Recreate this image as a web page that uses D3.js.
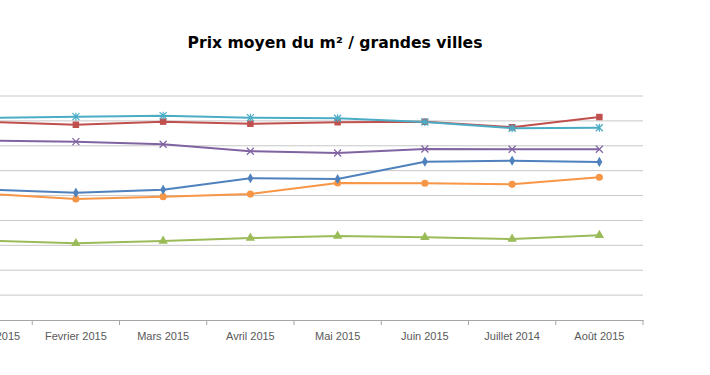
<!DOCTYPE html>
<html>
<head>
<meta charset="utf-8">
<script src="https://cdn.jsdelivr.net/npm/d3@7"></script>
<style>
  body { margin: 0; background: #fff; }
  svg { display: block; }
</style>
</head>
<body>
<svg id="chart" width="710" height="375"></svg>
<script>
(() => {
  const width = 710, height = 375;
  // plot area (left edge falls outside the picture, as in the reference)
  const plot = { left: -55, right: 643, top: 96, bottom: 320 };

  const months = ["Janvier 2015", "Fevrier 2015", "Mars 2015", "Avril 2015",
                  "Mai 2015", "Juin 2015", "Juillet 2014", "Août 2015"];

  // series values, €/m²
  const serieCyan   = [8115, 8170, 8210, 8130, 8105, 7955, 7705, 7725];
  const serieRouge  = [7960, 7845, 7970, 7885, 7945, 7965, 7745, 8155];
  const serieViolet = [7210, 7165, 7060, 6780, 6710, 6870, 6860, 6860];
  const serieBleu   = [5240, 5115, 5235, 5695, 5665, 6360, 6400, 6350];
  const serieOrange = [5065, 4860, 4955, 5060, 5505, 5495, 5450, 5735];
  const serieVert   = [3190, 3080, 3175, 3295, 3375, 3325, 3255, 3405];

  const yTicks = d3.range(0, 9001, 1000);

  const series = [
    { values: serieVert,   color: "#9BBB59", marker: "triangle" },
    { values: serieOrange, color: "#F79646", marker: "circle" },
    { values: serieBleu,   color: "#4F81BD", marker: "diamond" },
    { values: serieViolet, color: "#8064A2", marker: "x" },
    { values: serieRouge,  color: "#C0504D", marker: "square" },
    { values: serieCyan,   color: "#4BACC6", marker: "star" }
  ];

  const svg = d3.select("#chart");

  const x = d3.scaleBand().domain(months).range([plot.left, plot.right]).padding(0);
  const cx = d => x(d) + x.bandwidth() / 2;
  const y = d3.scaleLinear().domain([0, 9000]).range([plot.bottom, plot.top]);

  // gridlines
  svg.append("g")
    .selectAll("line")
    .data(yTicks.slice(1))
    .join("line")
    .attr("x1", plot.left).attr("x2", plot.right)
    .attr("y1", d => y(d)).attr("y2", d => y(d))
    .attr("stroke", "#c8c8c8")
    .attr("stroke-width", 1);

  // x axis
  const xAxis = d3.axisBottom(x).tickSize(0).tickPadding(12);
  const gx = svg.append("g")
    .attr("transform", `translate(0,${plot.bottom})`)
    .call(xAxis);
  gx.select(".domain").attr("stroke", "#a6a6a6");
  gx.selectAll("text")
    .attr("fill", "#595959")
    .attr("font-family", "'Liberation Sans', Arial, sans-serif")
    .attr("font-size", "11px");
  // tick marks at category boundaries
  gx.selectAll(".bound")
    .data(months)
    .join("line")
    .attr("class", "bound")
    .attr("x1", d => x(d) + x.bandwidth()).attr("x2", d => x(d) + x.bandwidth())
    .attr("y1", 0).attr("y2", 5)
    .attr("stroke", "#a6a6a6");

  // lines
  const line = d3.line()
    .x((_, i) => cx(months[i]))
    .y(d => y(d));

  const markerPath = {
    triangle: d3.symbol(d3.symbolTriangle, 38)(),
    circle: d3.symbol(d3.symbolCircle, 40)(),
    diamond: d3.symbol(d3.symbolDiamond, 30)(),
    square: d3.symbol(d3.symbolSquare, 42)()
  };

  series.forEach(s => {
    const g = svg.append("g");
    g.append("path")
      .datum(s.values)
      .attr("fill", "none")
      .attr("stroke", s.color)
      .attr("stroke-width", 2)
      .attr("stroke-linejoin", "round")
      .attr("d", line);

    const pts = g.selectAll(".pt")
      .data(s.values)
      .join("g")
      .attr("class", "pt")
      .attr("transform", (d, i) => `translate(${cx(months[i])},${y(d)})`);

    if (s.marker === "x" || s.marker === "star") {
      pts.append("path")
        .attr("d", s.marker === "x"
          ? "M-3.5,-3.5L3.5,3.5M-3.5,3.5L3.5,-3.5"
          : "M-3.5,-3.5L3.5,3.5M-3.5,3.5L3.5,-3.5M0,-4L0,4")
        .attr("stroke", s.color)
        .attr("stroke-width", 1.2)
        .attr("fill", "none");
    } else {
      pts.append("path")
        .attr("d", markerPath[s.marker])
        .attr("fill", s.color);
    }
  });

  // title
  svg.append("text")
    .attr("x", 335)
    .attr("y", 48)
    .attr("text-anchor", "middle")
    .attr("font-family", "'DejaVu Sans', sans-serif")
    .attr("font-weight", "bold")
    .attr("font-size", "15px")
    .attr("fill", "#000")
    .attr("textLength", 295)
    .attr("lengthAdjust", "spacingAndGlyphs")
    .text("Prix moyen du m² / grandes villes");
})();
</script>
</body>
</html>
